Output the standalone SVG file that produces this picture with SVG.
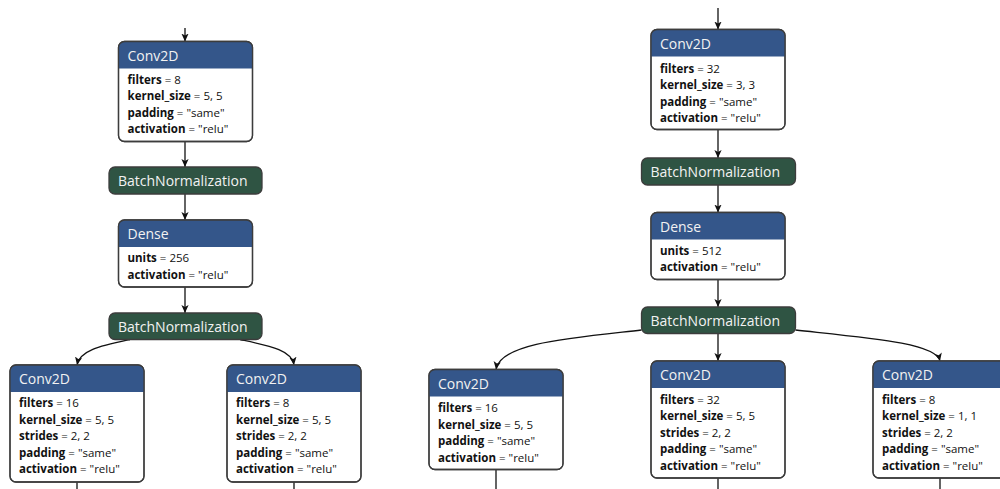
<svg xmlns="http://www.w3.org/2000/svg" width="1000" height="489" viewBox="0 0 1000 489">
<style>
.box{fill:#fff;stroke:#3c3c3c;stroke-width:1.3}
.frame{fill:none;stroke:#3c3c3c;stroke-width:1.3}
.hdr{fill:#34568a}
.bn{fill:#2f5443;stroke:#3c3c3c;stroke-width:1.3}
.t{font-family:"Open Sans","Noto Sans",sans-serif;font-size:14px;fill:#f2f2f2}
.b{font-family:"Open Sans","Noto Sans",sans-serif;font-size:11.5px;fill:#111}
.b tspan.k{font-weight:bold}
.e{fill:none;stroke:#111;stroke-width:1.3;marker-end:url(#ah)}
.n{fill:none;stroke:#111;stroke-width:1.3}
</style>
<defs>
<marker id="ah" viewBox="0 0 10 10" markerUnits="userSpaceOnUse" markerWidth="8" markerHeight="8" refX="10" refY="5" orient="auto">
<path d="M0,0.5 L10,5 L0,9.5 L2.5,5 z" fill="#111"/>
</marker>
</defs>

<g id="connectors">
<path class="e" d="M185,28 V41.5"/>
<path class="e" d="M185,141.5 V167"/>
<path class="e" d="M185,194 V220"/>
<path class="e" d="M185,287 V313"/>
<path class="e" d="M130,339.5 C100,346 80,350 77,365"/>
<path class="e" d="M240,339.5 C270,346 292,350 294,365"/>
<path class="n" d="M77,482 V489"/>
<path class="n" d="M294,482 V489"/>
<path class="e" d="M718,8 V29.5"/>
<path class="e" d="M718,129.5 V158"/>
<path class="e" d="M718,185 V212.5"/>
<path class="e" d="M718,279.5 V307"/>
<path class="e" d="M718,333.5 V361"/>
<path class="e" d="M641.5,330 C570,338 500,343 496,369.5"/>
<path class="e" d="M795.5,330 C870,338 936,343 940,361"/>
<path class="n" d="M496,469.5 V489"/>
<path class="n" d="M718,478 V489"/>
<path class="n" d="M940,478 V489"/>
</g>

<g id="L_conv1">
<rect class="box" x="118.5" y="41.5" width="134" height="100" rx="6"/>
<path class="hdr" d="M118.5,68.5 V47.5 A6,6 0 0 1 124.5,41.5 H246.5 A6,6 0 0 1 252.5,47.5 V68.5 Z"/>
<rect class="frame" x="118.5" y="41.5" width="134" height="100" rx="6"/>
<text class="t" x="127.5" y="60.5">Conv2D</text>
<text class="b" x="127.5" y="83.5"><tspan class="k">filters</tspan> = 8</text>
<text class="b" x="127.5" y="100"><tspan class="k">kernel_size</tspan> = 5, 5</text>
<text class="b" x="127.5" y="116.5"><tspan class="k">padding</tspan> = "same"</text>
<text class="b" x="127.5" y="133"><tspan class="k">activation</tspan> = "relu"</text>
</g>

<g id="L_bn1">
<rect class="bn" x="109" y="167" width="153" height="27" rx="6"/>
<text class="t" x="118" y="186">BatchNormalization</text>
</g>

<g id="L_dense">
<rect class="box" x="118.5" y="220" width="134" height="67" rx="6"/>
<path class="hdr" d="M118.5,247 V226 A6,6 0 0 1 124.5,220 H246.5 A6,6 0 0 1 252.5,226 V247 Z"/>
<rect class="frame" x="118.5" y="220" width="134" height="67" rx="6"/>
<text class="t" x="127.5" y="239">Dense</text>
<text class="b" x="127.5" y="262"><tspan class="k">units</tspan> = 256</text>
<text class="b" x="127.5" y="278.5"><tspan class="k">activation</tspan> = "relu"</text>
</g>

<g id="L_bn2">
<rect class="bn" x="109" y="313" width="153" height="26.5" rx="6"/>
<text class="t" x="118" y="331.5">BatchNormalization</text>
</g>

<g id="L_conv2">
<rect class="box" x="10" y="365" width="134" height="117" rx="6"/>
<path class="hdr" d="M10,392 V371 A6,6 0 0 1 16,365 H138 A6,6 0 0 1 144,371 V392 Z"/>
<rect class="frame" x="10" y="365" width="134" height="117" rx="6"/>
<text class="t" x="19" y="384">Conv2D</text>
<text class="b" x="19" y="407"><tspan class="k">filters</tspan> = 16</text>
<text class="b" x="19" y="423.5"><tspan class="k">kernel_size</tspan> = 5, 5</text>
<text class="b" x="19" y="440"><tspan class="k">strides</tspan> = 2, 2</text>
<text class="b" x="19" y="456.5"><tspan class="k">padding</tspan> = "same"</text>
<text class="b" x="19" y="473"><tspan class="k">activation</tspan> = "relu"</text>
</g>

<g id="L_conv3">
<rect class="box" x="227" y="365" width="134" height="117" rx="6"/>
<path class="hdr" d="M227,392 V371 A6,6 0 0 1 233,365 H355 A6,6 0 0 1 361,371 V392 Z"/>
<rect class="frame" x="227" y="365" width="134" height="117" rx="6"/>
<text class="t" x="236" y="384">Conv2D</text>
<text class="b" x="236" y="407"><tspan class="k">filters</tspan> = 8</text>
<text class="b" x="236" y="423.5"><tspan class="k">kernel_size</tspan> = 5, 5</text>
<text class="b" x="236" y="440"><tspan class="k">strides</tspan> = 2, 2</text>
<text class="b" x="236" y="456.5"><tspan class="k">padding</tspan> = "same"</text>
<text class="b" x="236" y="473"><tspan class="k">activation</tspan> = "relu"</text>
</g>

<g id="R_conv1">
<rect class="box" x="651" y="29.5" width="134" height="100" rx="6"/>
<path class="hdr" d="M651,56.5 V35.5 A6,6 0 0 1 657,29.5 H779 A6,6 0 0 1 785,35.5 V56.5 Z"/>
<rect class="frame" x="651" y="29.5" width="134" height="100" rx="6"/>
<text class="t" x="660" y="48.5">Conv2D</text>
<text class="b" x="660" y="72.5"><tspan class="k">filters</tspan> = 32</text>
<text class="b" x="660" y="89"><tspan class="k">kernel_size</tspan> = 3, 3</text>
<text class="b" x="660" y="105.5"><tspan class="k">padding</tspan> = "same"</text>
<text class="b" x="660" y="122"><tspan class="k">activation</tspan> = "relu"</text>
</g>

<g id="R_bn1">
<rect class="bn" x="641.5" y="158" width="154" height="27" rx="6"/>
<text class="t" x="650.5" y="177">BatchNormalization</text>
</g>

<g id="R_dense">
<rect class="box" x="651" y="212.5" width="134" height="67" rx="6"/>
<path class="hdr" d="M651,239.5 V218.5 A6,6 0 0 1 657,212.5 H779 A6,6 0 0 1 785,218.5 V239.5 Z"/>
<rect class="frame" x="651" y="212.5" width="134" height="67" rx="6"/>
<text class="t" x="660" y="231.5">Dense</text>
<text class="b" x="660" y="254.5"><tspan class="k">units</tspan> = 512</text>
<text class="b" x="660" y="271"><tspan class="k">activation</tspan> = "relu"</text>
</g>

<g id="R_bn2">
<rect class="bn" x="641.5" y="307" width="154" height="26.5" rx="6"/>
<text class="t" x="650.5" y="326">BatchNormalization</text>
</g>

<g id="R_conv2">
<rect class="box" x="429" y="369.5" width="134" height="100" rx="6"/>
<path class="hdr" d="M429,396.5 V375.5 A6,6 0 0 1 435,369.5 H557 A6,6 0 0 1 563,375.5 V396.5 Z"/>
<rect class="frame" x="429" y="369.5" width="134" height="100" rx="6"/>
<text class="t" x="438" y="388.5">Conv2D</text>
<text class="b" x="438" y="412"><tspan class="k">filters</tspan> = 16</text>
<text class="b" x="438" y="428.5"><tspan class="k">kernel_size</tspan> = 5, 5</text>
<text class="b" x="438" y="445"><tspan class="k">padding</tspan> = "same"</text>
<text class="b" x="438" y="461.5"><tspan class="k">activation</tspan> = "relu"</text>
</g>

<g id="R_conv3">
<rect class="box" x="651" y="361" width="134" height="117" rx="6"/>
<path class="hdr" d="M651,388 V367 A6,6 0 0 1 657,361 H779 A6,6 0 0 1 785,367 V388 Z"/>
<rect class="frame" x="651" y="361" width="134" height="117" rx="6"/>
<text class="t" x="660" y="380">Conv2D</text>
<text class="b" x="660" y="403.5"><tspan class="k">filters</tspan> = 32</text>
<text class="b" x="660" y="420"><tspan class="k">kernel_size</tspan> = 5, 5</text>
<text class="b" x="660" y="436.5"><tspan class="k">strides</tspan> = 2, 2</text>
<text class="b" x="660" y="453"><tspan class="k">padding</tspan> = "same"</text>
<text class="b" x="660" y="469.5"><tspan class="k">activation</tspan> = "relu"</text>
</g>

<g id="R_conv4">
<rect class="box" x="873" y="361" width="134" height="117" rx="6"/>
<path class="hdr" d="M873,388 V367 A6,6 0 0 1 879,361 H1001 A6,6 0 0 1 1007,367 V388 Z"/>
<rect class="frame" x="873" y="361" width="134" height="117" rx="6"/>
<text class="t" x="882" y="380">Conv2D</text>
<text class="b" x="882" y="403.5"><tspan class="k">filters</tspan> = 8</text>
<text class="b" x="882" y="420"><tspan class="k">kernel_size</tspan> = 1, 1</text>
<text class="b" x="882" y="436.5"><tspan class="k">strides</tspan> = 2, 2</text>
<text class="b" x="882" y="453"><tspan class="k">padding</tspan> = "same"</text>
<text class="b" x="882" y="469.5"><tspan class="k">activation</tspan> = "relu"</text>
</g>
</svg>
